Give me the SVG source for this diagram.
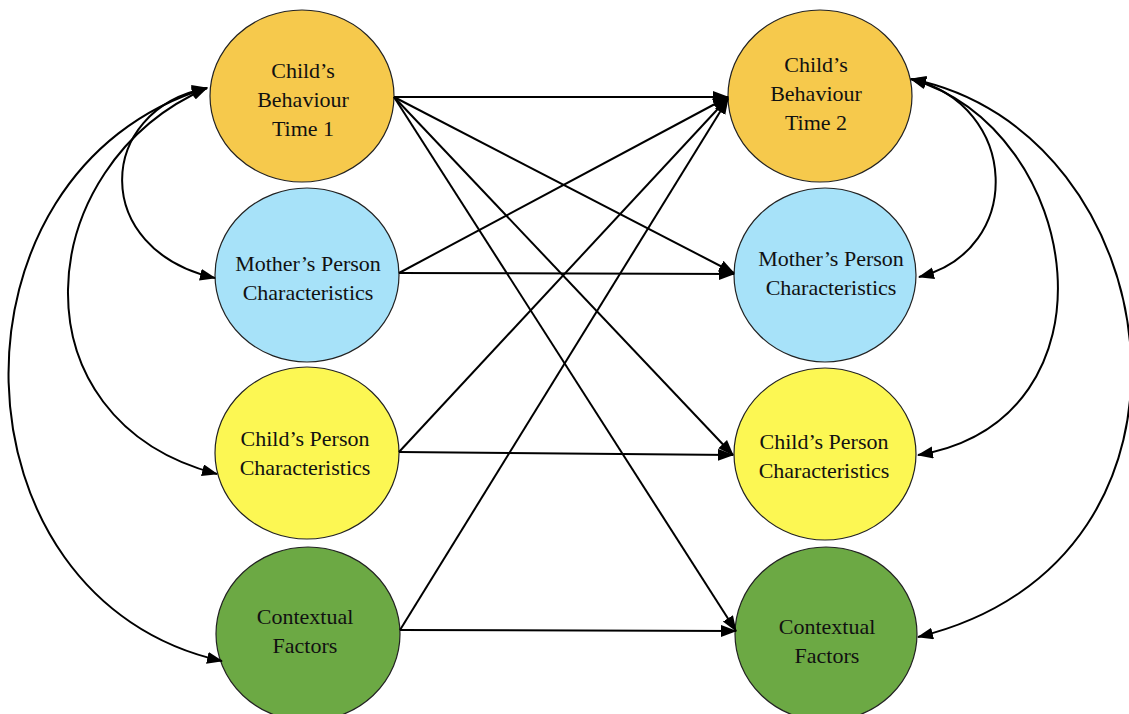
<svg xmlns="http://www.w3.org/2000/svg" width="1129" height="714" viewBox="0 0 1129 714">
  <style>
    .node { stroke: #222; stroke-width: 1.2; }
    .beh { fill: #F6C94C; }
    .mom { fill: #A7E2F9; }
    .kid { fill: #FCF753; }
    .ctx { fill: #6CA944; }
    .lbl { font-family: "Liberation Serif", "Times New Roman", serif; font-size: 22px; fill: #111; text-anchor: middle; }
    .path { fill: none; stroke: #000; stroke-width: 2; }
    .one { marker-end: url(#head); }
    .two { marker-end: url(#head); marker-start: url(#head); }
  </style>
  <defs>
    <marker id="head" markerUnits="userSpaceOnUse" markerWidth="18" markerHeight="14" refX="15" refY="6" orient="auto-start-reverse">
      <path d="M0,0 L16,6 L0,12 z" fill="#000"/>
    </marker>
  </defs>
  <rect width="1129" height="714" fill="#fff"/>

  <!-- Left column: time 1 -->
  <g id="behaviour-t1">
    <ellipse class="node beh" cx="302" cy="96" rx="92" ry="86"/>
    <text class="lbl" x="303" y="78">Child’s</text>
    <text class="lbl" x="303" y="107">Behaviour</text>
    <text class="lbl" x="303" y="136">Time 1</text>
  </g>
  <g id="mother-t1">
    <ellipse class="node mom" cx="307" cy="275" rx="92" ry="87"/>
    <text class="lbl" x="308" y="271">Mother’s Person</text>
    <text class="lbl" x="308" y="300">Characteristics</text>
  </g>
  <g id="child-t1">
    <ellipse class="node kid" cx="307" cy="453" rx="92" ry="86"/>
    <text class="lbl" x="305" y="446">Child’s Person</text>
    <text class="lbl" x="305" y="475">Characteristics</text>
  </g>
  <g id="context-t1">
    <ellipse class="node ctx" cx="308" cy="634" rx="92" ry="87"/>
    <text class="lbl" x="305" y="624">Contextual</text>
    <text class="lbl" x="305" y="653">Factors</text>
  </g>

  <!-- Right column: time 2 -->
  <g id="behaviour-t2">
    <ellipse class="node beh" cx="820" cy="96" rx="92" ry="86"/>
    <text class="lbl" x="816" y="72">Child’s</text>
    <text class="lbl" x="816" y="101">Behaviour</text>
    <text class="lbl" x="816" y="130">Time 2</text>
  </g>
  <g id="mother-t2">
    <ellipse class="node mom" cx="825" cy="275" rx="91" ry="87"/>
    <text class="lbl" x="831" y="266">Mother’s Person</text>
    <text class="lbl" x="831" y="295">Characteristics</text>
  </g>
  <g id="child-t2">
    <ellipse class="node kid" cx="825" cy="454" rx="91" ry="86"/>
    <text class="lbl" x="824" y="449">Child’s Person</text>
    <text class="lbl" x="824" y="478">Characteristics</text>
  </g>
  <g id="context-t2">
    <ellipse class="node ctx" cx="826" cy="634" rx="91" ry="87"/>
    <text class="lbl" x="827" y="634">Contextual</text>
    <text class="lbl" x="827" y="663">Factors</text>
  </g>

  <g id="connectors">
    <!-- cross-lagged paths from behaviour at time 1 -->
    <line class="path one" x1="394" y1="97" x2="728" y2="97"/>
    <line class="path one" x1="394" y1="97" x2="734" y2="273"/>
    <line class="path one" x1="394" y1="97" x2="733" y2="455"/>
    <line class="path one" x1="394" y1="97" x2="736" y2="631"/>
    <!-- paths from mother's characteristics -->
    <line class="path one" x1="399" y1="273" x2="728" y2="97"/>
    <line class="path one" x1="399" y1="273" x2="734" y2="274"/>
    <!-- paths from child's characteristics -->
    <line class="path one" x1="399" y1="452" x2="728" y2="98"/>
    <line class="path one" x1="399" y1="452" x2="733" y2="455"/>
    <!-- paths from contextual factors -->
    <line class="path one" x1="400" y1="630" x2="728" y2="99"/>
    <line class="path one" x1="400" y1="630" x2="736" y2="631"/>

    <!-- covariances at time 1 -->
    <path class="path two" d="M207,88 C95,110 90,250 215,278"/>
    <path class="path two" d="M207,88 C30,165 10,420 217,474"/>
    <path class="path two" d="M207,88 C-65,170 -55,600 222,661"/>

    <!-- covariances at time 2 -->
    <path class="path two" d="M911,79 C1020,105 1025,250 919,277"/>
    <path class="path two" d="M911,79 C1085,130 1125,420 918,455"/>
    <path class="path two" d="M911,79 C1170,130 1235,560 918,637"/>
  </g>
</svg>
